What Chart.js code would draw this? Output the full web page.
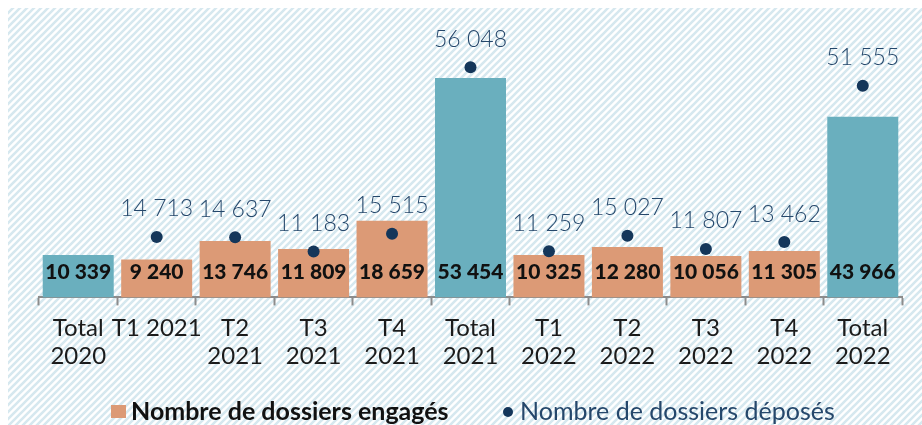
<!DOCTYPE html>
<html>
<head>
<meta charset="utf-8">
<script src="https://cdn.jsdelivr.net/npm/chart.js@4.4.1/dist/chart.umd.min.js"></script>
<style>
  html, body { margin: 0; padding: 0; background: #fff; }
  #wrap { width: 922px; height: 425px; position: relative; }
</style>
</head>
<body>
<div id="wrap"><canvas id="dossiersChart"></canvas></div>
<script>
// Categories (two-line labels where the chart wraps them)
const categories = [
    ['Total', '2020'], 'T1 2021', ['T2', '2021'], ['T3', '2021'], ['T4', '2021'], ['Total', '2021'],
    ['T1', '2022'], ['T2', '2022'], ['T3', '2022'], ['T4', '2022'], ['Total', '2022']
];
// Nombre de dossiers engagés (bars)
const engages = [10339, 9240, 13746, 11809, 18659, 53454, 10325, 12280, 10056, 11305, 43966];
// Nombre de dossiers déposés (dots) - no value for Total 2020
const deposes = [null, 14713, 14637, 11183, 15515, 56048, 11259, 15027, 11807, 13462, 51555];
// which bars are totals (teal)
const isTotal = [true, false, false, false, false, true, false, false, false, false, true];

const TEAL = '#6aafbe';
const SALMON = '#dc9a76';
const NAVY = '#14365a';
const LABEL_BLUE = '#25476b';

function fmt(v) {
    return String(v).replace(/\B(?=(\d{3})+(?!\d))/g, ' ');
}

/**
 * Hatched background behind the whole picture.
 */
const hatchBackground = {
    id: 'hatchBackground',
    beforeDraw(chart) {
        const ctx = chart.ctx;
        const p = document.createElement('canvas');
        p.width = 7; p.height = 7;
        const pc = p.getContext('2d');
        pc.strokeStyle = '#d6e8ef';
        pc.lineWidth = 2.6;
        pc.beginPath();
        pc.moveTo(-1, 8); pc.lineTo(8, -1);
        pc.moveTo(-1, 1); pc.lineTo(1, -1);
        pc.moveTo(6, 8); pc.lineTo(8, 6);
        pc.stroke();
        ctx.save();
        ctx.fillStyle = '#fff';
        ctx.fillRect(0, 0, chart.width, chart.height);
        ctx.fillStyle = ctx.createPattern(p, 'repeat');
        ctx.fillRect(8, 8, chart.width - 8, chart.height - 8);
        ctx.restore();
    }
};

/**
 * Value labels: bold numbers at the foot of each bar, light numbers above each dot.
 */
const valueLabels = {
    id: 'valueLabels',
    afterDatasetsDraw(chart) {
        const ctx = chart.ctx;
        const base = chart.scales.y.getPixelForValue(0);
        ctx.save();
        ctx.textAlign = 'center';
        ctx.textBaseline = 'middle';

        ctx.font = '900 21px Lato';
        ctx.fillStyle = '#111';
        chart.getDatasetMeta(0).data.forEach((bar, i) => {
            ctx.fillText(fmt(engages[i]), bar.x, base - 25);
        });

        ctx.font = '300 23px Lato';
        ctx.fillStyle = LABEL_BLUE;
        chart.getDatasetMeta(1).data.forEach((pt, i) => {
            if (deposes[i] == null) return;
            ctx.fillText(fmt(deposes[i]), pt.x, pt.y - 28);
        });
        ctx.restore();
    }
};

/**
 * Legend drawn at the bottom (two items with their own font styles).
 */
const bottomLegend = {
    id: 'bottomLegend',
    afterDraw(chart) {
        const ctx = chart.ctx;
        const y = 412;
        ctx.save();
        ctx.textBaseline = 'middle';
        ctx.textAlign = 'left';

        ctx.fillStyle = SALMON;
        ctx.fillRect(111, 405, 15, 13);
        ctx.font = '700 25px Lato';
        ctx.fillStyle = '#111';
        ctx.fillText('Nombre de dossiers engagés', 131, y);

        ctx.fillStyle = NAVY;
        ctx.beginPath();
        ctx.arc(508, y, 5, 0, Math.PI * 2);
        ctx.fill();
        ctx.font = '400 25px Lato';
        ctx.fillStyle = LABEL_BLUE;
        ctx.fillText('Nombre de dossiers déposés', 520, y);
        ctx.restore();
    }
};

function renderChart() {
    const ctx = document.getElementById('dossiersChart');
    new Chart(ctx, {
        type: 'bar',
        data: {
            labels: categories,
            datasets: [{
                type: 'bar',
                label: 'Nombre de dossiers engagés',
                data: engages,
                backgroundColor: isTotal.map(t => t ? TEAL : SALMON),
                borderWidth: 0,
                categoryPercentage: 0.905,
                barPercentage: 1,
                order: 2
            }, {
                type: 'line',
                label: 'Nombre de dossiers déposés',
                data: deposes,
                showLine: false,
                pointRadius: 6,
                pointHoverRadius: 6,
                pointBackgroundColor: NAVY,
                pointBorderWidth: 0,
                order: 1
            }]
        },
        options: {
            responsive: true,
            maintainAspectRatio: false,
            animation: false,
            layout: { padding: { top: 51, left: 39, right: 20, bottom: 46 } },
            plugins: {
                legend: { display: false },
                tooltip: { enabled: false }
            },
            scales: {
                x: {
                    offset: true,
                    grid: {
                        offset: true,
                        drawOnChartArea: false,
                        drawTicks: true,
                        tickLength: 8,
                        tickWidth: 2,
                        tickColor: '#8c8c8c'
                    },
                    border: { display: true, color: '#8c8c8c', width: 2 },
                    ticks: {
                        color: '#1b1b1b',
                        padding: 8,
                        maxRotation: 0,
                        autoSkip: false,
                        font: { family: 'Lato', size: 24, weight: '400', lineHeight: 1.2 }
                    }
                },
                y: {
                    display: false,
                    min: 0,
                    max: 60000
                }
            }
        },
        plugins: [hatchBackground, valueLabels, bottomLegend]
    });
}

document.addEventListener('DOMContentLoaded', renderChart);
</script>
</body>
</html>
